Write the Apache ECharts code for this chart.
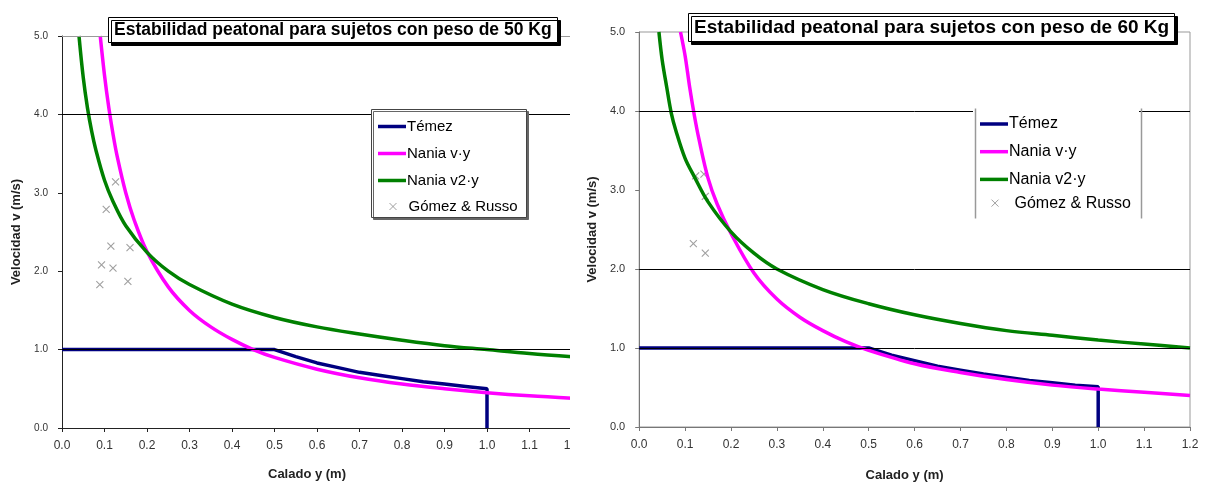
<!DOCTYPE html>
<html>
<head>
<meta charset="utf-8">
<script src="https://cdn.jsdelivr.net/npm/echarts@6/dist/echarts.min.js"></script>
<style>
  html, body { margin: 0; padding: 0; background: #fff; }
  #clipLeft { position: absolute; left: 0; top: 0; width: 570px; height: 487px; overflow: hidden; }
  #left { width: 600px; height: 487px; }
  #right { position: absolute; left: 578px; top: 0; width: 634px; height: 487px; }
</style>
</head>
<body>
<div id="clipLeft"><div id="left"></div></div>
<div id="right"></div>
<script>
// --- datos (calado y en m, velocidad v en m/s) ---
var seriesNames = ['Témez', 'Nania v·y', 'Nania v2·y', 'Gómez & Russo'];
var xTicks = [0, 0.1, 0.2, 0.3, 0.4, 0.5, 0.6, 0.7, 0.8, 0.9, 1.0, 1.1, 1.2];
var yTicks = [0, 1, 2, 3, 4, 5];

// 50 Kg
var temez50Y = [0, 0.5, 0.55, 0.6, 0.65, 0.7, 0.75, 0.8, 0.85, 0.9, 0.95, 1.0, 1.0];
var temez50V = [1.0, 1.0, 0.91, 0.83, 0.77, 0.71, 0.67, 0.63, 0.59, 0.56, 0.53, 0.5, 0];
var naniaVY50Y = [0.09, 0.1, 0.11, 0.12, 0.13, 0.15, 0.17, 0.2, 0.25, 0.3, 0.35, 0.4, 0.45, 0.5, 0.6, 0.7, 0.8, 0.9, 1.0, 1.1, 1.2];
var naniaVY50V = [5.0, 4.5, 4.09, 3.75, 3.46, 3.0, 2.65, 2.25, 1.8, 1.5, 1.29, 1.13, 1.0, 0.9, 0.75, 0.64, 0.56, 0.5, 0.45, 0.41, 0.38];
var naniaV2Y50Y = [0.04, 0.05, 0.06, 0.07, 0.08, 0.1, 0.12, 0.15, 0.2, 0.25, 0.3, 0.4, 0.5, 0.6, 0.7, 0.8, 0.9, 1.0, 1.1, 1.2];
var naniaV2Y50V = [5.0, 4.47, 4.08, 3.78, 3.54, 3.16, 2.89, 2.58, 2.24, 2.0, 1.83, 1.58, 1.41, 1.29, 1.2, 1.12, 1.05, 1.0, 0.95, 0.91];
var gomez50Y = [0.126, 0.104, 0.115, 0.16, 0.093, 0.12, 0.089, 0.155];
var gomez50V = [3.14, 2.79, 2.32, 2.30, 2.08, 2.04, 1.83, 1.87];
var gridLines50 = [4, 1];

// 60 Kg
var temez60Y = [0, 0.5, 0.55, 0.6, 0.65, 0.7, 0.75, 0.8, 0.85, 0.9, 0.95, 1.0, 1.0];
var temez60V = [1.0, 1.0, 0.91, 0.84, 0.77, 0.72, 0.67, 0.63, 0.59, 0.56, 0.53, 0.51, 0];
var naniaVY60Y = [0.09, 0.1, 0.11, 0.12, 0.13, 0.15, 0.17, 0.2, 0.25, 0.3, 0.35, 0.4, 0.45, 0.5, 0.6, 0.7, 0.8, 0.9, 1.0, 1.1, 1.2];
var naniaVY60V = [5.0, 4.7, 4.3, 3.95, 3.65, 3.15, 2.82, 2.45, 1.95, 1.62, 1.39, 1.22, 1.08, 0.97, 0.8, 0.69, 0.6, 0.53, 0.48, 0.44, 0.4];
var naniaV2Y60Y = [0.043, 0.05, 0.06, 0.07, 0.08, 0.1, 0.12, 0.15, 0.2, 0.25, 0.3, 0.4, 0.5, 0.6, 0.7, 0.8, 0.9, 1.0, 1.1, 1.2];
var naniaV2Y60V = [5.0, 4.65, 4.3, 3.97, 3.75, 3.4, 3.17, 2.85, 2.47, 2.2, 2.0, 1.74, 1.56, 1.42, 1.31, 1.22, 1.16, 1.1, 1.05, 1.0];
var gomez60Y = [0.123, 0.141, 0.144, 0.118, 0.144];
var gomez60V = [3.18, 3.20, 2.92, 2.32, 2.20];
var gridLines60 = [4, 2, 1];

var FONT = '"Liberation Sans", Arial, sans-serif';
var CROSS = 'path://M0,0L10,10M10,0L0,10';
var BAR = 'path://M0,0L28,0L28,3.5L0,3.5Z';

function pairs(xs, ys) {
    var out = [];
    for (var i = 0; i < xs.length; i++) out.push([xs[i], ys[i]]);
    return out;
}

function buildOption(c) {
    var lineBase = { type: 'line', showSymbol: false, symbol: 'none', silent: true, smooth: 0.35 };
    var legText = { fontFamily: FONT, fontSize: c.legFont, color: '#000', padding: [0, 0, 0, -4] };
    return {
        animation: false,
        textStyle: { fontFamily: FONT },
        title: {
            text: c.title,
            left: c.titleLeft, top: c.titleTop,
            padding: c.titlePad,
            backgroundColor: '#fff',
            borderColor: '#000', borderWidth: 1,
            shadowColor: '#000', shadowBlur: 0, shadowOffsetX: 3, shadowOffsetY: 3,
            textStyle: { fontFamily: FONT, fontWeight: 'bold', fontSize: c.titleSize, color: '#000' },
            z: 10
        },
        legend: [
            {
                data: seriesNames.slice(0, 3).map(function (n) { return { name: n, icon: BAR }; }),
                orient: 'vertical', left: c.legLeft + 7, top: c.legFirst - 7,
                itemWidth: 28, itemHeight: 14, itemGap: c.legGap, padding: 0,
                textStyle: legText, selectedMode: false, z: 10
            },
            {
                data: [{ name: seriesNames[3], icon: CROSS }],
                orient: 'vertical', left: c.legLeft + 18, top: c.legFirst - 5 + 3 * (14 + c.legGap),
                itemWidth: 7, itemHeight: 7, padding: 0,
                itemStyle: { color: 'rgba(0,0,0,0)', borderColor: '#888', borderWidth: 1 },
                textStyle: { fontFamily: FONT, fontSize: c.legFont, color: '#000', padding: [0, 0, 0, c.crossTextPad] },
                selectedMode: false, z: 10
            }
        ],
        graphic: c.legBox,
        grid: {
            left: c.gridLeft, top: c.gridTop, width: c.gridW, height: c.gridH,
            show: c.border, borderColor: '#999', borderWidth: 1, backgroundColor: 'transparent'
        },
        xAxis: {
            type: 'value', min: xTicks[0], max: xTicks[xTicks.length - 1], interval: 0.1,
            name: 'Calado y (m)', nameLocation: 'middle', nameGap: c.xNameGap,
            nameTextStyle: { fontFamily: FONT, fontWeight: 'bold', fontSize: 13, color: '#222', padding: [0, 20, 0, 0] },
            axisLine: { show: true, onZero: false, lineStyle: { color: c.axisColor, width: 1 } },
            axisTick: { show: true, length: 4, lineStyle: { color: c.axisColor } },
            axisLabel: { fontSize: 12, color: '#333', margin: 12, fontFamily: FONT,
                formatter: function (v) { return v.toFixed(1); } },
            splitLine: { show: false }
        },
        yAxis: {
            type: 'value', min: yTicks[0], max: yTicks[yTicks.length - 1], interval: 1,
            name: 'Velocidad v (m/s)', nameLocation: 'middle', nameGap: c.yNameGap,
            nameTextStyle: { fontFamily: FONT, fontWeight: 'bold', fontSize: 13, color: '#222' },
            axisLine: { show: true, onZero: false, lineStyle: { color: c.axisColor, width: 1 } },
            axisTick: { show: true, length: 4, lineStyle: { color: c.axisColor } },
            axisLabel: { fontSize: c.yLabelSize, color: '#333', margin: 14, fontFamily: FONT,
                formatter: function (v) { return v.toFixed(1); } },
            splitLine: { show: false }
        },
        series: [
            {
                type: 'line', name: '_grid', data: [], silent: true, z: 1,
                markLine: {
                    silent: true, symbol: 'none', animation: false,
                    label: { show: false },
                    data: c.gridLines.map(function (v) {
                        return { yAxis: v, lineStyle: { color: '#000', width: 1, type: 'solid' } };
                    }).concat(c.topLine ? [{ yAxis: 5, lineStyle: { color: '#999', width: 1, type: 'solid' } }] : [])
                }
            },
            Object.assign({}, lineBase, {
                name: seriesNames[0], data: pairs(c.temezY, c.temezV), z: 2, smooth: false,
                lineStyle: { color: '#000080', width: 3.5 }, itemStyle: { color: '#000080' }
            }),
            Object.assign({}, lineBase, {
                name: seriesNames[1], data: pairs(c.vyY, c.vyV), z: 3,
                lineStyle: { color: '#ff00ff', width: 3.5 }, itemStyle: { color: '#ff00ff' }
            }),
            Object.assign({}, lineBase, {
                name: seriesNames[2], data: pairs(c.v2yY, c.v2yV), z: 4,
                lineStyle: { color: '#008000', width: 3.5 }, itemStyle: { color: '#008000' }
            }),
            {
                type: 'scatter', name: seriesNames[3], data: pairs(c.gY, c.gV), z: 2,
                symbol: CROSS, symbolSize: 7, silent: true,
                itemStyle: { color: 'rgba(0,0,0,0)', borderColor: '#888', borderWidth: 1.1 }
            }
        ]
    };
}

var left = echarts.init(document.getElementById('left'), null, { renderer: 'canvas' });
left.setOption(buildOption({
    title: 'Estabilidad peatonal para sujetos con peso de 50 Kg',
    titleLeft: 108, titleTop: 17, titlePad: [4, 6, 4, 6], titleSize: 17.5,
    legLeft: 371, legFirst: 126, legGap: 12, legFont: 15, crossTextPad: 7,
    legBox: [{
        type: 'rect', left: 371, top: 109, z: 6, silent: true,
        shape: { width: 155, height: 108 },
        style: { fill: '#fff', stroke: '#444', lineWidth: 1, shadowColor: '#666', shadowBlur: 0, shadowOffsetX: 2, shadowOffsetY: 2 }
    }],
    gridLeft: 62, gridTop: 36, gridW: 510, gridH: 392, border: false, topLine: true,
    axisColor: '#222', yLabelSize: 10,
    xNameGap: 40, yNameGap: 38,
    gridLines: gridLines50,
    temezY: temez50Y, temezV: temez50V,
    vyY: naniaVY50Y, vyV: naniaVY50V,
    v2yY: naniaV2Y50Y, v2yV: naniaV2Y50V,
    gY: gomez50Y, gV: gomez50V
}));

var right = echarts.init(document.getElementById('right'), null, { renderer: 'canvas' });
right.setOption(buildOption({
    title: 'Estabilidad peatonal para sujetos con peso de 60 Kg',
    titleLeft: 110, titleTop: 13, titlePad: [5, 6, 5, 6], titleSize: 19,
    legLeft: 395, legFirst: 123, legGap: 11.7, legFont: 16, crossTextPad: 11,
    legBox: [
        { type: 'rect', left: 395, top: 106, z: 6, silent: true, shape: { width: 166, height: 110 }, style: { fill: '#fff' } },
        { type: 'line', left: 395, top: 106, z: 7, silent: true, shape: { x1: 0, y1: 0, x2: 0, y2: 110 }, style: { stroke: '#999', lineWidth: 1.5 } },
        { type: 'line', left: 561, top: 106, z: 7, silent: true, shape: { x1: 0, y1: 0, x2: 0, y2: 110 }, style: { stroke: '#999', lineWidth: 1.5 } }
    ],
    gridLeft: 55, gridTop: 32, gridW: 557, gridH: 398, border: true, topLine: false,
    axisColor: '#777', yLabelSize: 11,
    xNameGap: 42, yNameGap: 40,
    gridLines: gridLines60,
    temezY: temez60Y, temezV: temez60V,
    vyY: naniaVY60Y, vyV: naniaVY60V,
    v2yY: naniaV2Y60Y, v2yV: naniaV2Y60V,
    gY: gomez60Y, gV: gomez60V
}));
</script>
</body>
</html>
